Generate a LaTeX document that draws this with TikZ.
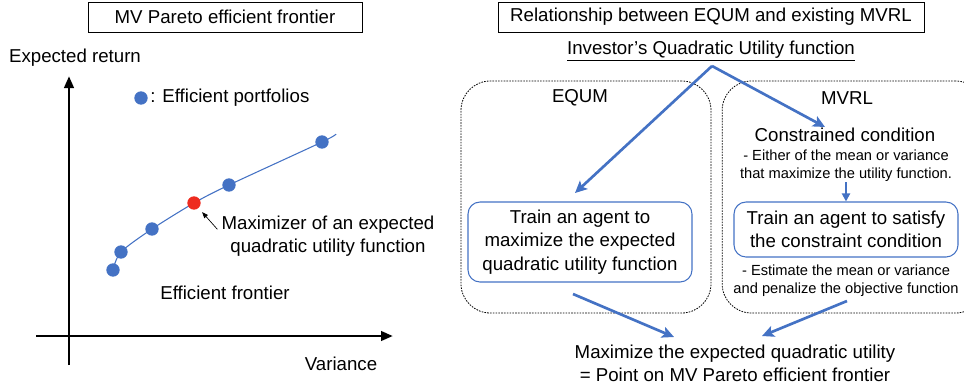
\documentclass[tikz,border=0pt]{standalone}
\usepackage{fontspec}
\setmainfont{Liberation Sans}
\usetikzlibrary{arrows.meta}
\definecolor{pfblue}{HTML}{4472C4}
\definecolor{pfred}{HTML}{EE2B1F}

\begin{document}
\begin{tikzpicture}[x=0.75pt,y=-0.75pt]
\tikzset{every node/.style={font=\fontsize{14}{17.5}\selectfont,align=center,inner sep=0pt}}
\tikzset{titlebox/.style={draw,line width=0.7pt,minimum height=22.5pt}}
\tikzset{small note/.style={font=\fontsize{11}{13.5}\selectfont}}
\tikzset{axis/.style={line width=2.2pt,-{Triangle[length=9pt,width=7pt]}}}
\tikzset{dot/.style={circle,fill=#1,minimum size=10pt}}
\tikzset{groupbox/.style={draw,dashed,dash pattern=on 1.2pt off 0.9pt,line width=0.6pt,rounded corners=22pt}}
\tikzset{trainbox/.style={draw=pfblue,line width=0.8pt,rounded corners=9pt,minimum width=168pt}}
\tikzset{flow/.style={pfblue,line width=2pt,-{Stealth[length=9pt,width=8.5pt,inset=2pt]}}}
\useasboundingbox (0,0) rectangle (964,387);

\node[titlebox,minimum width=205.5pt] (lefttitle) at (225,17) {MV Pareto efficient frontier};
\node (ylabel) at (75,58) {Expected return};
\node (xlabel) at (341,364) {Variance};
\coordinate (xstart) at (36,336);
\coordinate (xend) at (393,336);
\coordinate (ystart) at (69,365);
\coordinate (yend) at (69,76);
\draw[axis] (xstart) -- (xend);
\draw[axis] (ystart) -- (yend);
\node[dot=pfblue] (legdot) at (141,98) {};
\node[anchor=west] (legtext) at (150,98) {: Efficient portfolios};
\coordinate (p1) at (113,270);
\coordinate (p2) at (121,252);
\coordinate (p3) at (152,229);
\coordinate (p4) at (194,203);
\coordinate (p5) at (229,185);
\coordinate (p6) at (322,142);
\coordinate (pend) at (336,134);
\draw[pfblue,line width=0.8pt] plot[smooth,tension=0.5] coordinates {(p1) (p2) (p3) (p4) (p5) (p6) (pend)};
\foreach \p in {p1,p2,p3,p5,p6}
  \node[dot=pfblue] (d\p) at (\p) {};
\node[dot=pfred] (dp4) at (p4) {};
\node (maxlabel) at (328,236) {Maximizer of an expected\\quadratic utility function};
\draw[line width=0.5pt,-{Triangle[length=4.5pt,width=3.5pt]},shorten >=4pt] ([xshift=-3pt,yshift=5pt]maxlabel.west) -- (dp4);
\node (frontlabel) at (225,293) {Efficient frontier};

\node[titlebox,minimum width=319.5pt] (righttitle) at (711,17) {Relationship between EQUM and existing MVRL};
\node (utility) at (711,51) {\underline{Investor’s Quadratic Utility function}};
\coordinate (apex) at (712,66);
\node[groupbox,minimum width=187.5pt,minimum height=174pt] (equmbox) at (586,197) {};
\node[groupbox,minimum width=197pt,minimum height=174pt] (mvrlbox) at (853.5,197) {};
\node (equm) at (580,98) {EQUM};
\node (mvrl) at (847,98) {MVRL};
\node (constr) at (845,135) {Constrained condition};
\node[small note] (note1) at (846,166) {- Either of the mean or variance\\that maximize the utility function.};
\node[trainbox,minimum height=60pt] (eqtrain) at (580,242) {Train an agent to\\maximize the expected\\quadratic utility function};
\node[trainbox,minimum height=41.25pt] (mvtrain) at (846,229.5) {Train an agent to satisfy\\the constraint condition};
\node[small note] (note2) at (846,281) {- Estimate the mean or variance\\and penalize the objective function};
\node (result) at (735,363) {Maximize the expected quadratic utility\\= Point on MV Pareto efficient frontier};
\coordinate (eqin) at (575,193);
\coordinate (mvin) at (825,127);
\coordinate (eqout) at (573,294);
\coordinate (mvout) at (847,301);
\coordinate (resleft) at (674,337);
\coordinate (resright) at (762,336);
\draw[flow] (apex) -- (eqin);
\draw[flow] (apex) -- (mvin);
\draw[flow,line width=1.6pt,-{Triangle[length=6pt,width=6pt]}] (note1) -- (mvtrain);
\draw[flow] (eqout) -- (resleft);
\draw[flow] (mvout) -- (resright);
\end{tikzpicture}
\end{document}
